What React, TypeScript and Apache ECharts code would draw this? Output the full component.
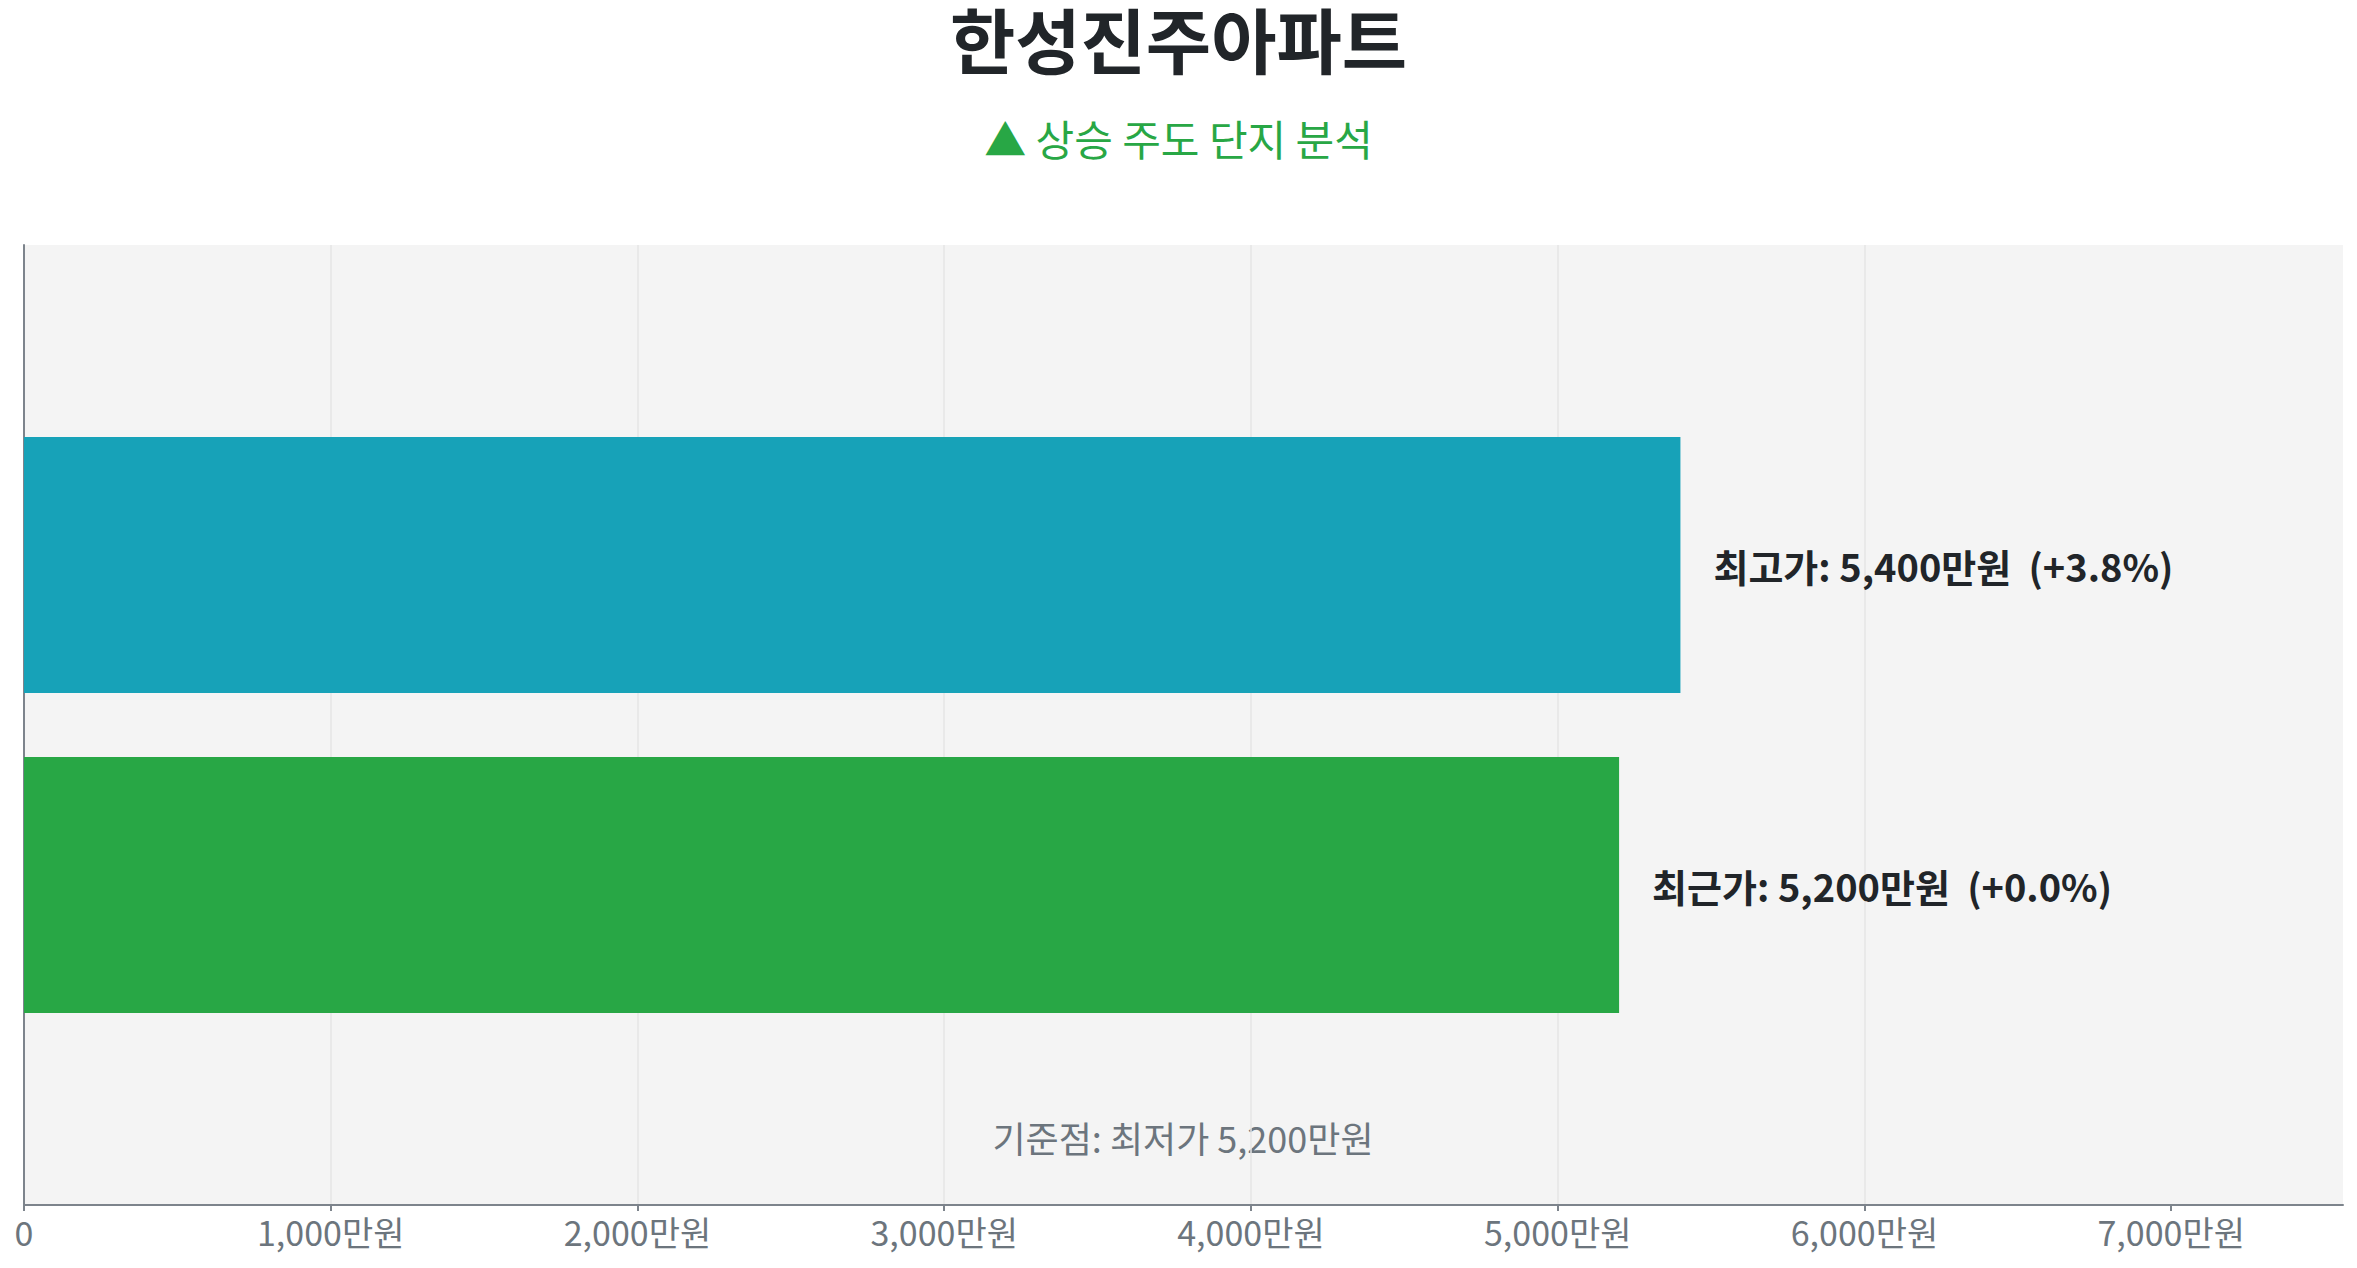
import { useEffect, useRef } from 'react';
import * as echarts from 'echarts';

const complexName = '한성진주아파트';
const subtitle = '▲ 상승 주도 단지 분석';

// bottom to top on the y axis
const priceLabels = ['최근가', '최고가'];
const prices = [5200, 5400]; // 만원
const barColors = ['#28a745', '#17a2b8'];

const basePrice = Math.min(...prices);
const axisTicks = [0, 1000, 2000, 3000, 4000, 5000, 6000, 7000];

const FONT = '"Noto Sans CJK KR", "Noto Sans", sans-serif';

const fmt = (v: number) => v.toLocaleString('en-US');

export default function App() {
  const chartRef = useRef<HTMLDivElement>(null);

  useEffect(() => {
    if (!chartRef.current) return;
    const chart = echarts.init(chartRef.current, null, { renderer: 'svg' });

    // pad the category axis with empty slots so the bars sit in the middle
    const categories = ['', ...priceLabels, ''];
    const seriesData: any[] = [
      '-',
      ...prices.map((v, i) => ({ value: v, itemStyle: { color: barColors[i] } })),
      '-',
    ];

    const option: echarts.EChartsOption = {
      animation: false,
      textStyle: { fontFamily: FONT },
      title: [
        {
          text: complexName,
          left: 'center',
          top: 0,
          padding: 0,
          textStyle: { fontSize: 71, lineHeight: 57, fontWeight: 'bold', color: '#212529', fontFamily: FONT },
        },
        {
          text: subtitle,
          left: 'center',
          top: 108,
          padding: 0,
          textStyle: { fontSize: 42, fontWeight: 'normal', color: '#28a745', fontFamily: FONT },
        },
      ],
      grid: {
        left: 16,
        right: 6,
        top: 237,
        bottom: 55,
        show: true,
        backgroundColor: '#f4f4f4',
        borderWidth: 0,
      },
      xAxis: {
        type: 'value',
        min: 0,
        max: Math.max(...prices) * 1.4,
        interval: 1000,
        axisLine: { show: true, lineStyle: { color: '#7d848c', width: 2 } },
        axisTick: { show: true, length: 6, lineStyle: { color: '#7d848c', width: 2 }, customValues: axisTicks },
        axisLabel: {
          customValues: axisTicks,
          fontSize: 34,
          color: '#6c757d',
          margin: 9,
          fontFamily: FONT,
          formatter: (v: number) => (v === 0 ? '0' : `${fmt(v)}만원`),
        },
        splitLine: { show: true, showMaxLine: false, lineStyle: { color: '#e6e6e6', width: 1.5 } },
      } as any,
      yAxis: {
        type: 'category',
        data: categories,
        boundaryGap: false,
        axisLine: { show: true, lineStyle: { color: '#7d848c', width: 2 } },
        axisTick: { show: false },
        axisLabel: { show: false },
        splitLine: { show: false },
      },
      graphic: [
        {
          type: 'text',
          x: 1175,
          y: 1129,
          style: {
            text: `기준점: 최저가 ${fmt(basePrice)}만원`,
            fill: '#6c757d',
            fontSize: 36,
            fontFamily: FONT,
            textAlign: 'center',
            textVerticalAlign: 'middle',
          } as any,
        },
      ],
      series: [
        {
          type: 'bar',
          barWidth: '80%',
          data: seriesData,
          label: {
            show: true,
            position: 'right',
            distance: 33,
            fontSize: 38,
            fontWeight: 'bold',
            color: '#212529',
            fontFamily: FONT,
            formatter: (p: any) => {
              const pct = ((p.value - basePrice) / basePrice) * 100;
              return `${p.name}: ${fmt(p.value)}만원  (+${pct.toFixed(1)}%)`;
            },
          },
        },
      ],
    };

    chart.setOption(option);

    const handleResize = () => chart.resize();
    window.addEventListener('resize', handleResize);
    return () => {
      window.removeEventListener('resize', handleResize);
      chart.dispose();
    };
  }, []);

  return <div ref={chartRef} style={{ width: '100%', height: '1252px' }} />;
}
